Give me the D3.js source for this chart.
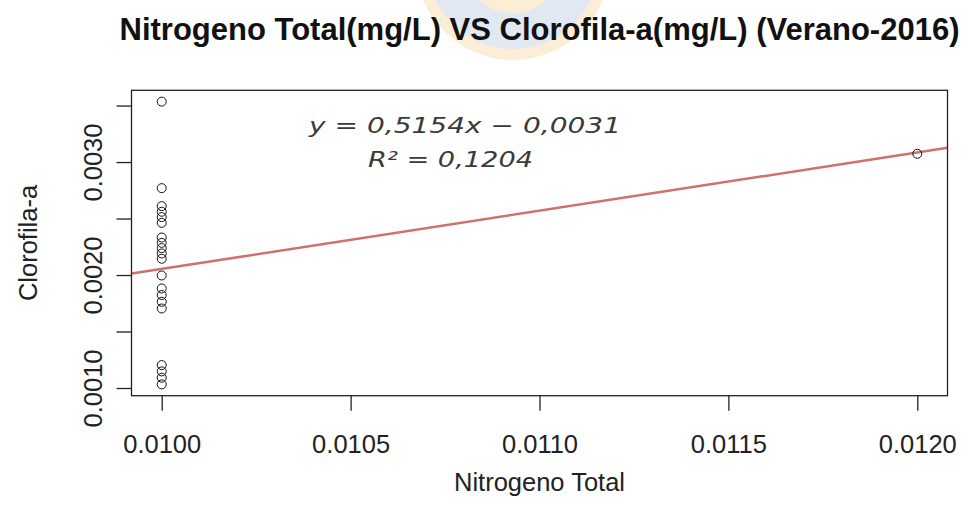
<!DOCTYPE html>
<html>
<head>
<meta charset="utf-8">
<script src="https://cdn.jsdelivr.net/npm/d3@7"></script>
<style>
  body { margin: 0; background: #fff; }
  svg { display: block; font-family: "Liberation Sans", Arial, sans-serif; }
</style>
</head>
<body>
<svg width="977" height="523"></svg>
<script>
// data
const nitrogeno = [0.0100, 0.0100, 0.0100, 0.0100, 0.0100, 0.0100, 0.0100,
                   0.0100, 0.0100, 0.0100, 0.0100, 0.0100, 0.0100, 0.0100,
                   0.0100, 0.0100, 0.0100, 0.0100, 0.0100, 0.0100, 0.0120];
const clorofila = [0.003535, 0.002769, 0.002610, 0.002560, 0.002513, 0.002462,
                   0.002332, 0.002285, 0.002238, 0.002191, 0.002144, 0.001996,
                   0.001881, 0.001823, 0.001763, 0.001704, 0.001203, 0.001147,
                   0.001091, 0.001032, 0.003073];
const xTicks = [0.0100, 0.0105, 0.0110, 0.0115, 0.0120];
const xTickLabels = ["0.0100", "0.0105", "0.0110", "0.0115", "0.0120"];
const yTicks = [0.0010, 0.0015, 0.0020, 0.0025, 0.0030, 0.0035];
const yTickLabels = ["0.0010", "", "0.0020", "", "0.0030", ""];
const slope = 0.5154, intercept = -0.0031;
const eqLine1 = "y = 0,5154x \u2212 0,0031";
const eqLine2 = "R\u00b2 = 0,1204";

const svg = d3.select("svg");
const mLeft = 131.5, mRight = 947.5, mTop = 90.3, mBottom = 395.7;

// R style 4% padding on the data range
function pad(ext) {
  const d = (ext[1] - ext[0]) * 0.04;
  return [ext[0] - d, ext[1] + d];
}
const x = d3.scaleLinear().domain(pad(d3.extent(nitrogeno))).range([mLeft, mRight]);
const y = d3.scaleLinear().domain(pad(d3.extent(clorofila))).range([mBottom, mTop]);

// faint seal watermark behind the title
const wm = svg.append("g").attr("opacity", 0.3);
wm.append("circle").attr("cx", 513).attr("cy", -37).attr("r", 97).attr("fill", "#f3c77a");
wm.append("circle").attr("cx", 513).attr("cy", -37).attr("r", 86).attr("fill", "#9fb5d6");
wm.append("circle").attr("cx", 513).attr("cy", -37).attr("r", 50).attr("fill", "#f3c77a");

svg.append("text")
  .attr("x", (mLeft + mRight) / 2).attr("y", 40)
  .attr("text-anchor", "middle")
  .attr("font-size", 31).attr("font-weight", "bold").attr("fill", "#111")
  .text("Nitrogeno Total(mg/L) VS Clorofila-a(mg/L) (Verano-2016)");

svg.append("clipPath").attr("id", "plot")
  .append("rect").attr("x", mLeft).attr("y", mTop)
  .attr("width", mRight - mLeft).attr("height", mBottom - mTop);

// regression line
const line = d3.line().x(d => x(d)).y(d => y(slope * d + intercept));
svg.append("path")
  .datum(x.domain())
  .attr("clip-path", "url(#plot)")
  .attr("d", line)
  .attr("fill", "none").attr("stroke", "#d0716a").attr("stroke-width", 2.5);

// points
svg.append("g").selectAll("circle")
  .data(nitrogeno)
  .enter()
  .append("circle")
  .attr("cx", d => x(d))
  .attr("cy", (d, i) => y(clorofila[i]))
  .attr("r", 4.5)
  .attr("fill", "none").attr("stroke", "#111").attr("stroke-width", 1);

// box
svg.append("rect")
  .attr("x", mLeft).attr("y", mTop)
  .attr("width", mRight - mLeft).attr("height", mBottom - mTop)
  .attr("fill", "none").attr("stroke", "#222").attr("stroke-width", 1.3);

const xAxis = d3.axisBottom(x).tickValues(xTicks).tickSize(15)
  .tickFormat((d, i) => xTickLabels[i]);
const gx = svg.append("g").attr("transform", "translate(0," + mBottom + ")").call(xAxis);
gx.select(".domain").remove();
gx.selectAll("line").attr("stroke", "#222").attr("stroke-width", 1.3);
gx.selectAll("text").attr("y", 57).attr("dy", 0)
  .attr("font-size", 25.5).attr("fill", "#222").attr("font-family", null);

const yAxis = d3.axisLeft(y).tickValues(yTicks).tickSize(15)
  .tickFormat((d, i) => yTickLabels[i]);
const gy = svg.append("g").attr("transform", "translate(" + mLeft + ",0)").call(yAxis);
gy.select(".domain").remove();
gy.selectAll("line").attr("stroke", "#222").attr("stroke-width", 1.3);
gy.selectAll("text").attr("x", 0).attr("dy", 0)
  .attr("transform", "translate(-30,0) rotate(-90)")
  .attr("text-anchor", "middle")
  .attr("font-size", 25.5).attr("fill", "#222").attr("font-family", null);

svg.append("text")
  .attr("x", (mLeft + mRight) / 2).attr("y", 491)
  .attr("text-anchor", "middle").attr("font-size", 25.5).attr("fill", "#222")
  .text("Nitrogeno Total");

svg.append("text")
  .attr("transform", "translate(37," + (mTop + mBottom) / 2 + ") rotate(-90)")
  .attr("text-anchor", "middle").attr("font-size", 25.5).attr("fill", "#222")
  .text("Clorofila-a");

// trendline equation
const eq = svg.append("g")
  .attr("font-family", "'DejaVu Sans', Verdana, sans-serif")
  .attr("font-style", "italic").attr("font-size", 21).attr("fill", "#3a3a3a");
eq.append("text").attr("x", 309).attr("y", 133)
  .attr("textLength", 312).attr("lengthAdjust", "spacingAndGlyphs").text(eqLine1);
eq.append("text").attr("x", 368).attr("y", 167)
  .attr("textLength", 165).attr("lengthAdjust", "spacingAndGlyphs").text(eqLine2);
</script>
</body>
</html>
